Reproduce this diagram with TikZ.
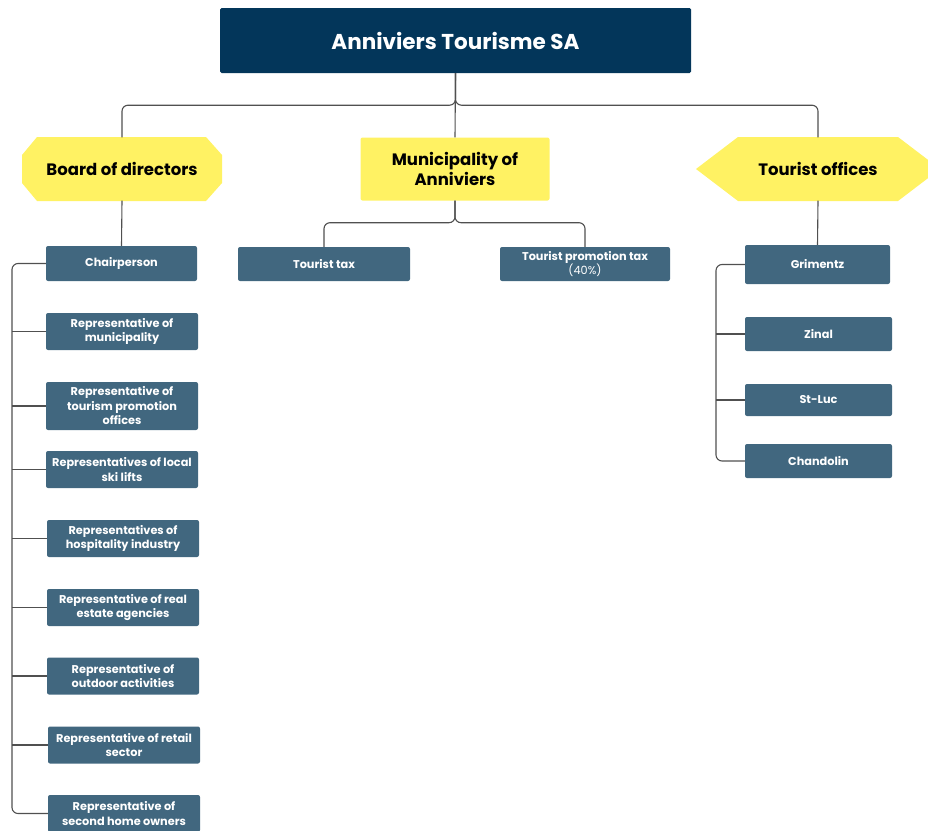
\documentclass[tikz,border=0pt]{standalone}
\usepackage{fontspec}
\setmainfont{Poppins}
\definecolor{navy}{HTML}{03365A}
\definecolor{slate}{HTML}{41677F}
\definecolor{lemon}{HTML}{FFF263}
\definecolor{wire}{HTML}{505050}
\begin{document}
\begin{tikzpicture}[x=1pt,y=-1pt,
		top/.style={fill=navy,text=white,minimum width=471,minimum height=65,rounded corners=1.5,font=\fontsize{21.5}{24}\selectfont\bfseries},
		head/.style={minimum width=#1,minimum height=63,align=center,font=\fontsize{16.5}{20}\selectfont\bfseries},
		item/.style={fill=slate,text=white,rounded corners=2,minimum width=#1,align=center,inner sep=1,font=\fontsize{11.3}{14.5}\selectfont\bfseries},
		link/.style={draw=wire,line width=1.1,rounded corners=6}]
		\useasboundingbox (0,0) rectangle (928,830);
		% yellow shapes
		\fill[lemon] (37,137) -- (206,137) -- (222,155) -- (222,183) -- (206,201) -- (37,201) -- (22,183) -- (22,155) -- cycle;
		\fill[lemon] (738,137) -- (898,137) -- (940,169) -- (898,201) -- (738,201) -- (696,169) -- cycle;
		
		\node[top] (ats) at (455.5,40.5) {Anniviers Tourisme SA};
		\node[head=199] (board) at (122,169) {Board of directors};
		\node[head=189,fill=lemon,rounded corners=2] (muni) at (455,169) {Municipality of\\Anniviers};
		\node[head=150] (offices) at (818,169) {Tourist offices};
		
		\node[item=151,minimum height=35] (chair) at (121.5,263.5) {Chairperson};
		\node[item=152,minimum height=37] (rmuni) at (122,331.5) {Representative of\\municipality};
		\node[item=152,minimum height=48] (rtour) at (122,406) {Representative of\\tourism promotion\\offices};
		\node[item=152,minimum height=37] (rski) at (122,469.5) {Representatives of local\\ski lifts};
		\node[item=152,minimum height=37] (rhosp) at (123,538.5) {Representatives of\\hospitality industry};
		\node[item=152,minimum height=37] (restate) at (123,607.5) {Representative of real\\estate agencies};
		\node[item=152,minimum height=37] (routd) at (123,676) {Representative of\\outdoor activities};
		\node[item=152,minimum height=37] (rretail) at (124,745) {Representative of retail\\sector};
		\node[item=152,minimum height=37] (rowner) at (124,813.5) {Representative of\\second home owners};
		
		\node[item=172,minimum height=34] (ttax) at (324,264) {Tourist tax};
		\node[item=170,minimum height=34] (tpromo) at (585,264) {Tourist promotion tax\\{\mdseries (40\%)}};
		
		\node[item=145,minimum height=39] (grim) at (817.5,264.5) {Grimentz};
		\node[item=147,minimum height=34] (zinal) at (818.5,334) {Zinal};
		\node[item=147,minimum height=32] (stluc) at (818.5,400) {St-Luc};
		\node[item=147,minimum height=34] (chand) at (818.5,461) {Chandolin};
		
		\coordinate (lspine) at (12,0);
		\coordinate (rspine) at (716,0);
		
		\draw[link] (ats.south) -- (muni.north);
		\draw[link] (ats.south) -- ++(0,32) -| (board.north);
		\draw[link] (ats.south) -- ++(0,32) -| (offices.north);
		\draw[link] (board.south) -- (chair.north);
		\draw[link] (muni.south) -- ++(0,22) -| (ttax.north);
		\draw[link] (muni.south) -- ++(0,22) -| (tpromo.north);
		\draw[link] (offices.south) -- (grim.north);
		
		\draw[link] (chair.west) -- (chair.west -| lspine) -- (rowner.west -| lspine) -- (rowner.west);
		\foreach \n in {rmuni,rtour,rski,rhosp,restate,routd,rretail}
			\draw[link] (\n.west) -- (\n.west -| lspine);
		\draw[link] (grim.west) -- (grim.west -| rspine) -- (chand.west -| rspine) -- (chand.west);
		\foreach \n in {zinal,stluc}
			\draw[link] (\n.west) -- (\n.west -| rspine);
	\end{tikzpicture}
\end{document}
